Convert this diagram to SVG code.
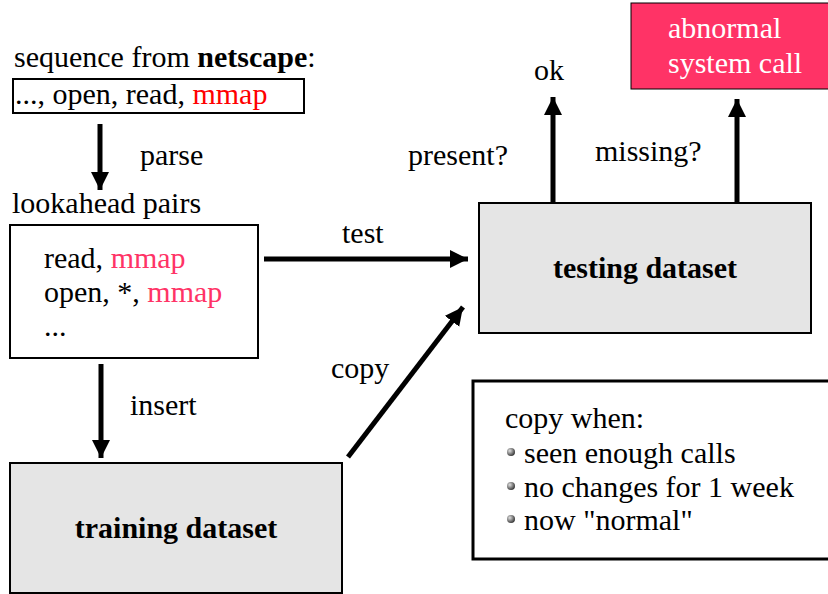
<svg xmlns="http://www.w3.org/2000/svg" width="828" height="594" viewBox="0 0 828 594">
<style>
text{font-family:'Liberation Serif','DejaVu Serif','Times New Roman',Times,serif;font-size:30px;fill:#000}
.b{font-weight:bold}
.red{fill:#ff0000}
.pink{fill:#ff3366}
.w{fill:#ffffff}
.box{fill:#ffffff;stroke:#000;stroke-width:2}
.gray{fill:#e5e5e5;stroke:#000;stroke-width:2}
.conn{stroke:#000;stroke-width:5;fill:none;marker-end:url(#ah)}
</style>
<defs>
<marker id="ah" markerUnits="userSpaceOnUse" markerWidth="20" markerHeight="20" viewBox="0 0 20 20" refX="18" refY="10" orient="auto">
<path d="M0,1 L18,10 L0,19 Z" fill="#000"/>
</marker>
<radialGradient id="bul" cx="0.35" cy="0.35" r="0.7">
<stop offset="0" stop-color="#e0e0e0"/>
<stop offset="1" stop-color="#333"/>
</radialGradient>
</defs>
<g id="seq">
<text x="14" y="67">sequence from <tspan class="b">netscape</tspan>:</text>
<rect class="box" x="13" y="79" width="291" height="34"/>
<text x="15" y="104">..., open, read, <tspan class="red">mmap</tspan></text>
</g>
<g id="pairs">
<text x="12" y="213">lookahead pairs</text>
<rect class="box" x="10" y="225" width="248" height="133"/>
<text x="44" y="268">read, <tspan class="pink">mmap</tspan></text>
<text x="44" y="302">open, *, <tspan class="pink">mmap</tspan></text>
<text x="44" y="336">...</text>
</g>
<g id="testing">
<rect class="gray" x="479" y="203" width="332" height="130"/>
<text class="b" x="645" y="278" text-anchor="middle">testing dataset</text>
</g>
<g id="training">
<rect class="gray" x="10" y="463" width="332" height="130"/>
<text class="b" x="176" y="538" text-anchor="middle">training dataset</text>
</g>
<g id="abnormal">
<rect x="631" y="3" width="200" height="86" fill="#ff3366" stroke="#000" stroke-width="1"/>
<text class="w" x="668" y="38">abnormal</text>
<text class="w" x="668" y="73">system call</text>
</g>
<g id="ok">
<text x="534" y="80">ok</text>
</g>
<g id="note">
<rect x="473" y="381" width="360" height="178" fill="#fff" stroke="#000" stroke-width="3"/>
<text x="505" y="428">copy when:</text>
<circle cx="511" cy="452" r="4" fill="url(#bul)"/>
<text x="524" y="463">seen enough calls</text>
<circle cx="511" cy="486" r="4" fill="url(#bul)"/>
<text x="524" y="497">no changes for 1 week</text>
<circle cx="511" cy="519" r="4" fill="url(#bul)"/>
<text x="524" y="530">now "normal"</text>
</g>
<g id="connectors">
<line class="conn" x1="100" y1="124" x2="100" y2="190"/>
<text x="140" y="165">parse</text>
<line class="conn" x1="264" y1="259" x2="468" y2="259"/>
<text x="342" y="243">test</text>
<line class="conn" x1="101" y1="364" x2="101" y2="458"/>
<text x="130" y="415">insert</text>
<line class="conn" x1="348" y1="457" x2="463" y2="307"/>
<text x="331" y="378">copy</text>
<line class="conn" x1="553" y1="203" x2="553" y2="97"/>
<text x="408" y="165">present?</text>
<line class="conn" x1="737" y1="203" x2="737" y2="99"/>
<text x="595" y="161">missing?</text>
</g>
</svg>
